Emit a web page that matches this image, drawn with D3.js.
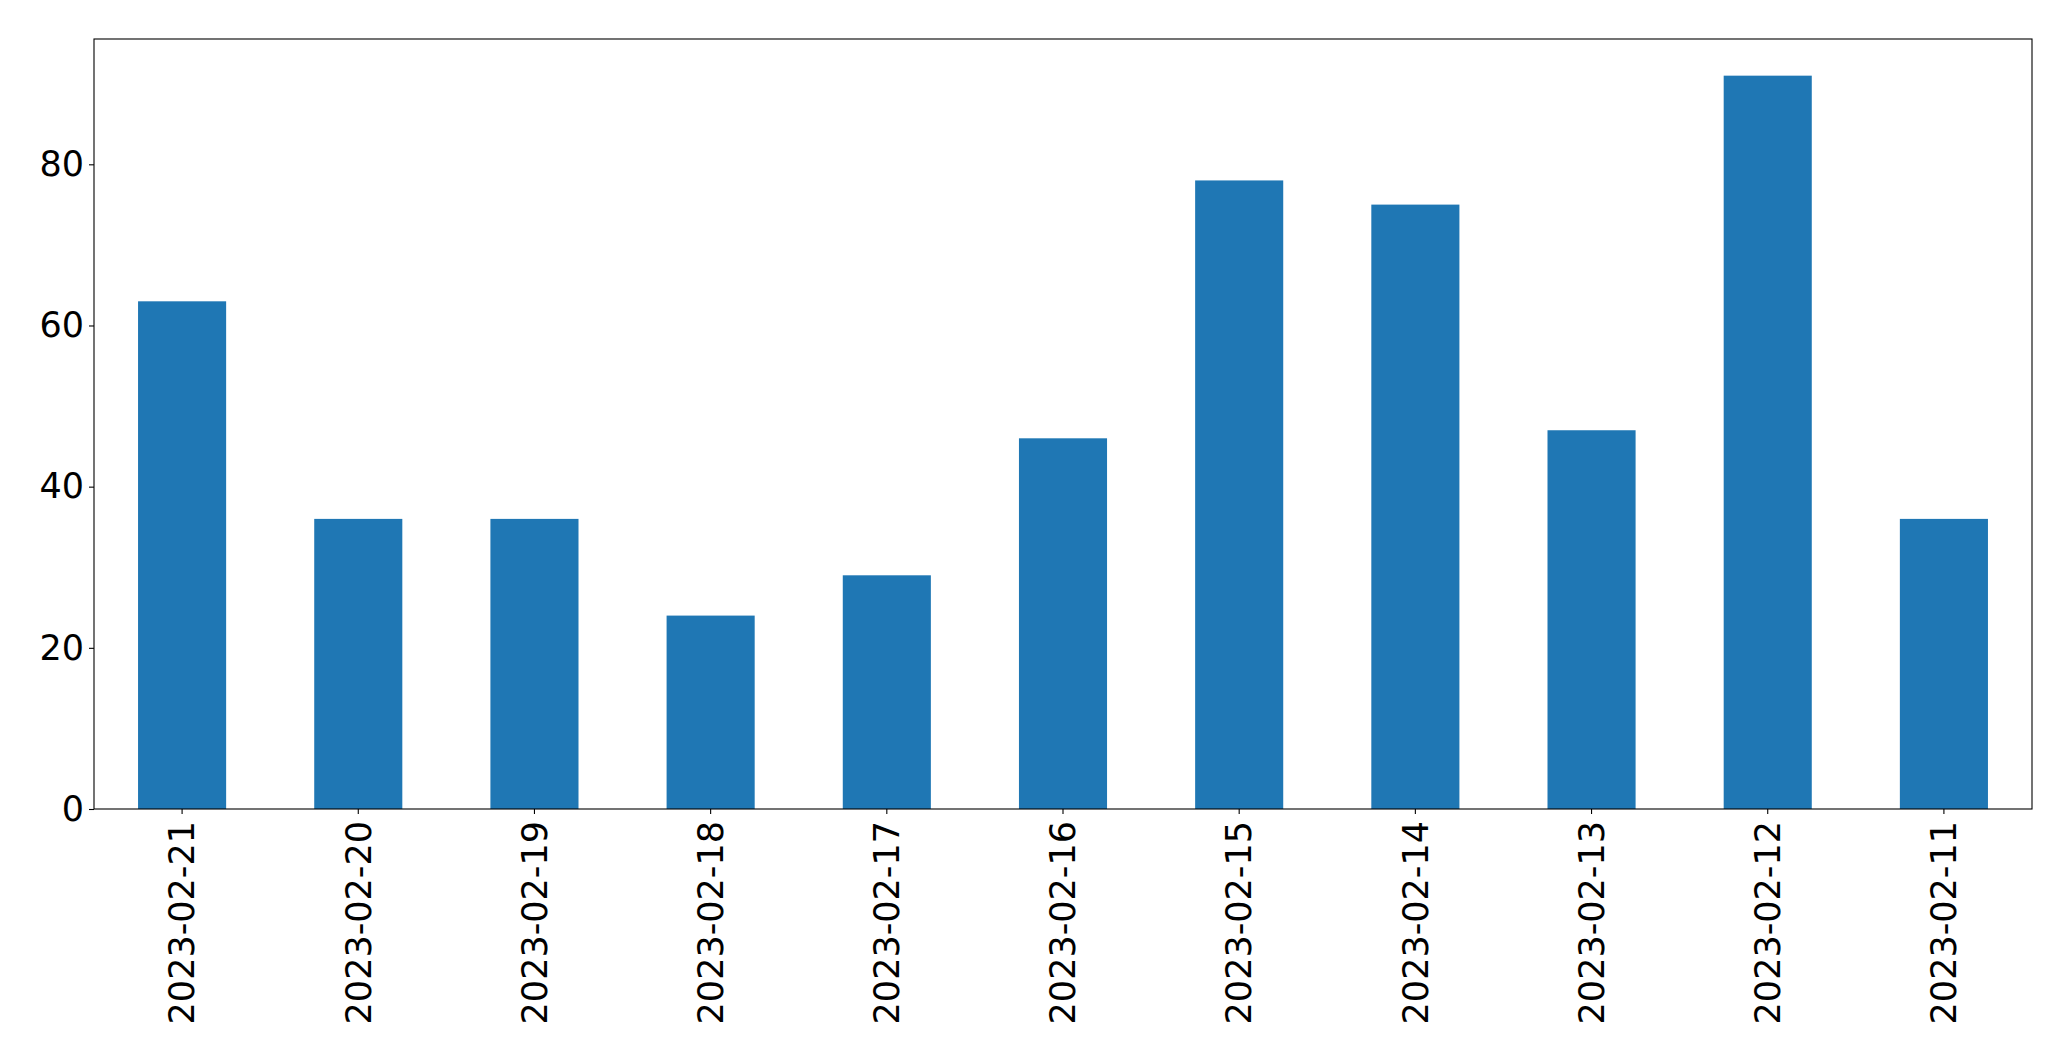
<!DOCTYPE html>
<html><head><meta charset="utf-8">
<script src="https://cdn.jsdelivr.net/npm/d3@7"></script>
<style>html,body{margin:0;padding:0;background:#fff;}</style>
</head><body>
<script>
const categories = ["2023-02-21","2023-02-20","2023-02-19","2023-02-18","2023-02-17","2023-02-16","2023-02-15","2023-02-14","2023-02-13","2023-02-12","2023-02-11"];
const values = [63, 36, 36, 24, 29, 46, 78, 75, 47, 91, 36];
const yTicks = [0, 20, 40, 60, 80];

const W = 2071, H = 1061;
const m = {left: 94, top: 39, right: 2071 - 2032, bottom: 1061 - 809};
const svg = d3.select("body").append("svg").attr("width", W).attr("height", H);
const pw = W - m.left - m.right, ph = H - m.top - m.bottom;
const g = svg.append("g").attr("transform", `translate(${m.left},${m.top})`);

const x = d3.scaleBand().domain(categories).range([0, pw]).paddingInner(0.5).paddingOuter(0.25);
const yMax = d3.max(values) * 1.05;
const y = d3.scaleLinear().domain([0, yMax]).range([ph, 0]);

g.selectAll("rect.bar").data(values).enter().append("rect")
  .attr("class", "bar")
  .attr("x", (d, i) => x(categories[i]))
  .attr("width", x.bandwidth())
  .attr("y", d => y(d))
  .attr("height", d => y(0) - y(d))
  .attr("fill", "#1f77b4");

const font = "DejaVu Sans, sans-serif";
const fs = 35;

const yAxis = g.append("g").call(d3.axisLeft(y).tickValues(yTicks).tickSize(5).tickPadding(5).tickFormat(d3.format("d")));
yAxis.select(".domain").remove();
yAxis.selectAll("line").attr("stroke", "#000").attr("stroke-width", 1.1);
yAxis.selectAll("text").attr("font-family", font).attr("font-size", fs).attr("fill", "#000");

const xAxis = g.append("g").attr("transform", `translate(0,${ph})`)
  .call(d3.axisBottom(x).tickSize(5).tickPadding(5));
xAxis.select(".domain").remove();
xAxis.selectAll("line").attr("stroke", "#000").attr("stroke-width", 1.1);
xAxis.selectAll("text").attr("font-family", font).attr("font-size", fs).attr("fill", "#000")
  .attr("transform", "rotate(-90)")
  .attr("text-anchor", "end")
  .attr("x", -12).attr("y", 0).attr("dy", "0.35em");

g.append("rect").attr("x", 0).attr("y", 0).attr("width", pw).attr("height", ph)
  .attr("fill", "none").attr("stroke", "#000").attr("stroke-width", 1.1);
</script>
</body></html>
